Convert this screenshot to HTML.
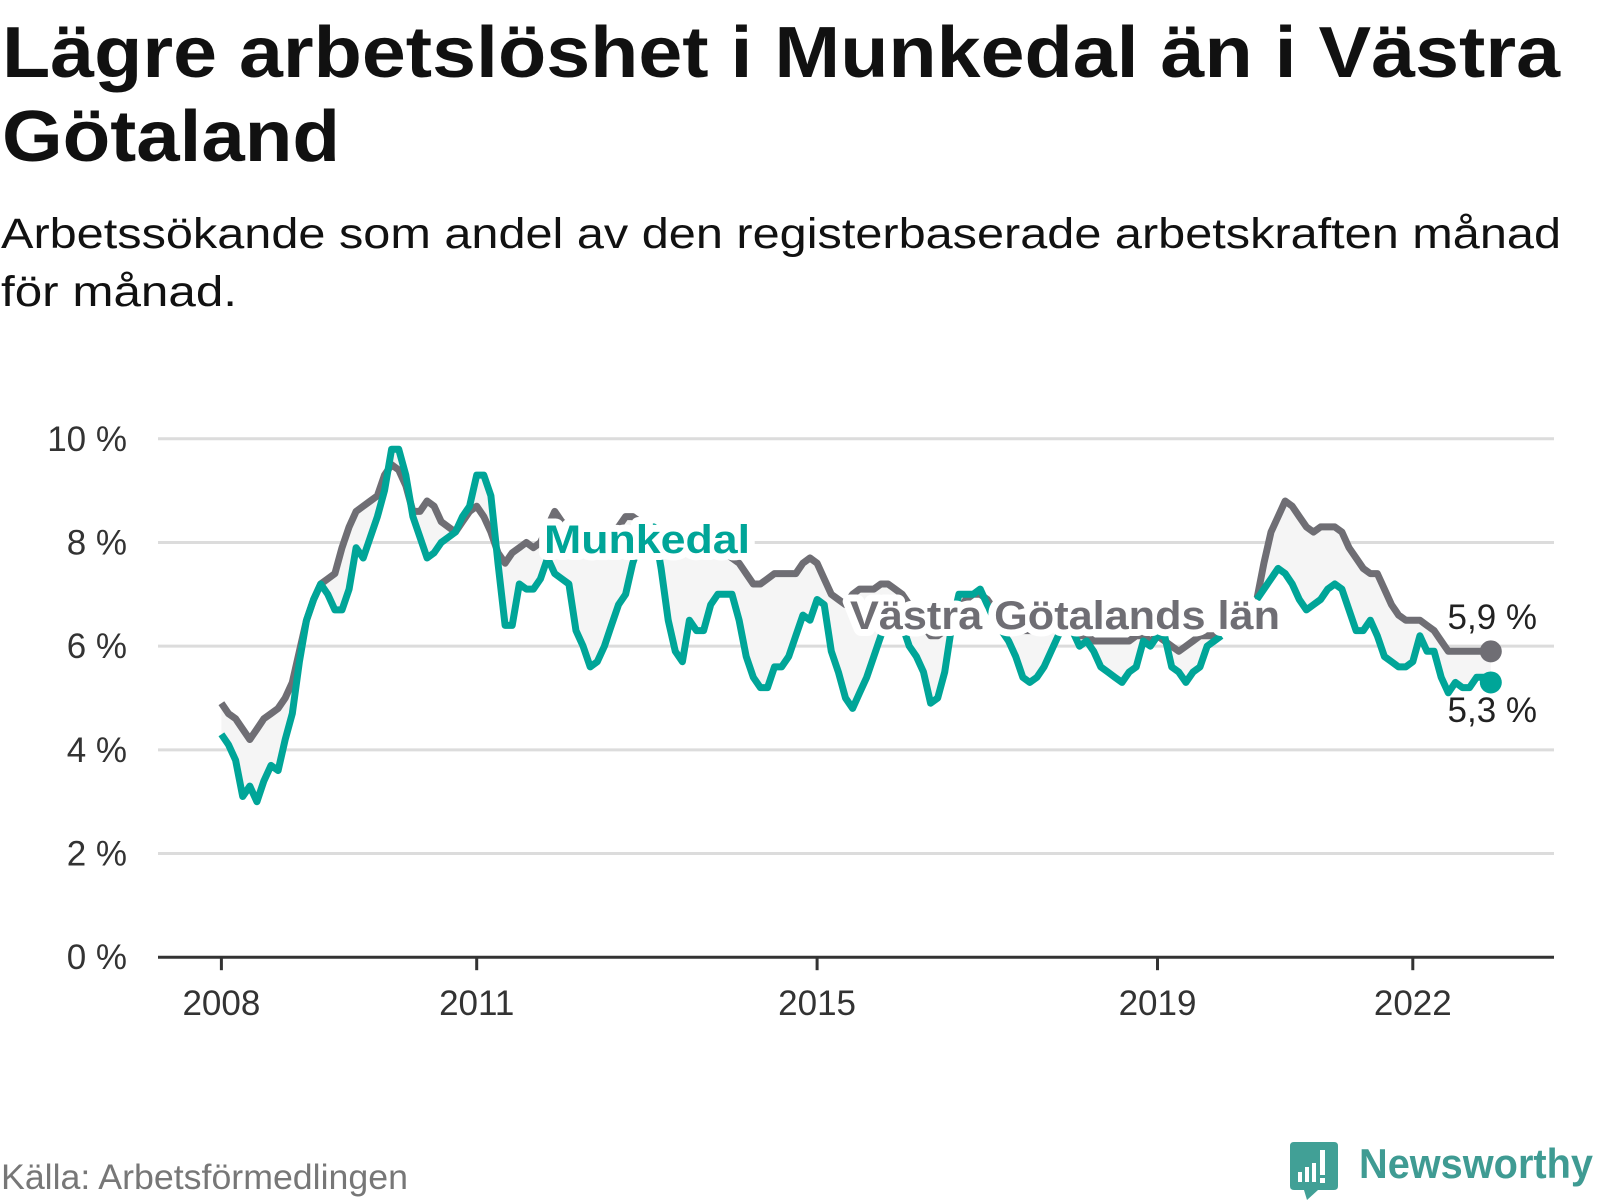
<!DOCTYPE html>
<html><head><meta charset="utf-8">
<style>
html,body{margin:0;padding:0;background:#fff;}
svg{display:block;font-family:"Liberation Sans",sans-serif;}
</style></head>
<body>
<svg id="chart" width="1600" height="1200" viewBox="0 0 1600 1200" xmlns="http://www.w3.org/2000/svg">
<text x="2" y="77" font-size="72" font-weight="bold" fill="#111" textLength="1558" lengthAdjust="spacingAndGlyphs">Lägre arbetslöshet i Munkedal än i Västra</text>
<text x="2" y="161" font-size="72" font-weight="bold" fill="#111" textLength="338" lengthAdjust="spacingAndGlyphs">Götaland</text>
<text x="1" y="248" font-size="43" fill="#111" textLength="1560" lengthAdjust="spacingAndGlyphs">Arbetssökande som andel av den registerbaserade arbetskraften månad</text>
<text x="1" y="306" font-size="43" fill="#111" textLength="236" lengthAdjust="spacingAndGlyphs">för månad.</text>
<g id="grid"></g>
<g id="area"></g>
<g id="lines"></g>
<g id="axes"></g>
<g id="labels"></g>
<text x="1" y="1189" font-size="35" fill="#777" textLength="407" lengthAdjust="spacingAndGlyphs">Källa: Arbetsförmedlingen</text>
<g>
<path d="M1294 1142 H1334 Q1338 1142 1338 1146 V1186 Q1338 1190 1334 1190 H1318 L1307 1200 L1304 1190 H1294 Q1290 1190 1290 1186 V1146 Q1290 1142 1294 1142 Z" fill="#41a096"/>
<rect x="1298" y="1172" width="4" height="10" fill="#fff"/>
<rect x="1305" y="1167" width="4" height="15" fill="#fff"/>
<rect x="1312" y="1163" width="4" height="19" fill="#fff"/>
<rect x="1320" y="1150" width="5" height="25" fill="#fff"/>
<rect x="1320" y="1178" width="5" height="5" fill="#fff"/>
<text x="1359" y="1178" font-size="42" font-weight="bold" fill="#3f9b93" textLength="234" lengthAdjust="spacingAndGlyphs">Newsworthy</text>
</g>
</svg>
<script>
const yTicks = [0, 2, 4, 6, 8, 10];
const yTickLabels = ["0 %", "2 %", "4 %", "6 %", "8 %", "10 %"];
const xTickYears = [2008, 2011, 2015, 2019, 2022];
const startYear = 2008;
const munkedal = [
4.3,4.1,3.8,3.1,3.3,3.0,3.4,3.7,3.6,4.2,4.7,5.7,
6.5,6.9,7.2,7.0,6.7,6.7,7.1,7.9,7.7,8.1,8.5,9.0,
9.8,9.8,9.3,8.5,8.1,7.7,7.8,8.0,8.1,8.2,8.5,8.7,
9.3,9.3,8.9,7.6,6.4,6.4,7.2,7.1,7.1,7.3,7.7,7.4,
7.3,7.2,6.3,6.0,5.6,5.7,6.0,6.4,6.8,7.0,7.6,8.0,
8.2,8.3,7.5,6.5,5.9,5.7,6.5,6.3,6.3,6.8,7.0,7.0,
7.0,6.5,5.8,5.4,5.2,5.2,5.6,5.6,5.8,6.2,6.6,6.5,
6.9,6.8,5.9,5.5,5.0,4.8,5.1,5.4,5.8,6.2,6.5,6.6,
6.4,6.0,5.8,5.5,4.9,5.0,5.5,6.4,7.0,7.0,7.0,7.1,
6.8,6.5,6.3,6.1,5.8,5.4,5.3,5.4,5.6,5.9,6.2,6.4,
6.3,6.0,6.1,5.9,5.6,5.5,5.4,5.3,5.5,5.6,6.1,6.0,
6.2,6.2,5.6,5.5,5.3,5.5,5.6,6.0,6.1,6.2,null,null,
null,null,6.9,7.1,7.3,7.5,7.4,7.2,6.9,6.7,6.8,6.9,
7.1,7.2,7.1,6.7,6.3,6.3,6.5,6.2,5.8,5.7,5.6,5.6,
5.7,6.2,5.9,5.9,5.4,5.1,5.3,5.2,5.2,5.4,5.4,5.3];
const vastra = [
4.9,4.7,4.6,4.4,4.2,4.4,4.6,4.7,4.8,5.0,5.3,5.9,
6.5,6.9,7.2,7.3,7.4,7.9,8.3,8.6,8.7,8.8,8.9,9.3,
9.5,9.4,9.1,8.6,8.6,8.8,8.7,8.4,8.3,8.2,8.4,8.6,
8.7,8.5,8.2,7.8,7.6,7.8,7.9,8.0,7.9,8.0,8.3,8.6,
8.4,8.3,8.2,8.1,8.1,8.1,8.2,8.2,8.3,8.5,8.5,8.4,
8.3,8.2,8.1,8.1,8.0,8.0,8.0,8.0,8.0,8.0,7.9,7.8,
7.7,7.6,7.4,7.2,7.2,7.3,7.4,7.4,7.4,7.4,7.6,7.7,
7.6,7.3,7.0,6.9,6.8,7.0,7.1,7.1,7.1,7.2,7.2,7.1,
7.0,6.8,6.6,6.4,6.2,6.2,6.3,6.5,6.7,6.9,7.0,7.0,
6.9,6.7,6.6,6.4,6.3,6.3,6.3,6.3,6.3,6.4,6.5,6.4,
6.3,6.2,6.2,6.1,6.1,6.1,6.1,6.1,6.1,6.2,6.2,6.1,
6.2,6.1,6.0,5.9,6.0,6.1,6.2,6.2,6.2,6.2,null,null,
null,null,6.9,7.6,8.2,8.5,8.8,8.7,8.5,8.3,8.2,8.3,
8.3,8.3,8.2,7.9,7.7,7.5,7.4,7.4,7.1,6.8,6.6,6.5,
6.5,6.5,6.4,6.3,6.1,5.9,5.9,5.9,5.9,5.9,5.9,5.9];
const seriesNames = ["Munkedal", "Västra Götalands län"];
const endLabels = ["5,3 %", "5,9 %"];

const NS = "http://www.w3.org/2000/svg";
const X0 = 221.4, PX_PER_YEAR = 85.1, Y0 = 957.2, PX_PER_UNIT = 51.84;
const PLOT_L = 158, PLOT_R = 1554;
function xScale(m){ return X0 + m * PX_PER_YEAR / 12; }
function xYear(yr){ return X0 + (yr - startYear) * PX_PER_YEAR; }
function yScale(v){ return Y0 - v * PX_PER_UNIT; }
function mk(tag, attrs, parent){ const e=document.createElementNS(NS,tag); for(const k in attrs) e.setAttribute(k,attrs[k]); parent.appendChild(e); return e; }

const grid = document.getElementById('grid');
yTicks.forEach((t,i)=>{
  if(t!==0){
    const l = mk('line',{x1:PLOT_L,x2:PLOT_R,y1:yScale(t),y2:yScale(t),stroke:'#dcdcdc','stroke-width':3},grid);
    
    
  }
  const tx = mk('text',{x:127,y:yScale(t)+12,'text-anchor':'end','font-size':35,fill:'#333'},grid);
  tx.textContent = yTickLabels[i];
  
  
});

const area = document.getElementById('area');
let segs=[], cur=[];
for(let i=0;i<munkedal.length;i++){
  if(munkedal[i]==null||vastra[i]==null){ if(cur.length) segs.push(cur); cur=[]; }
  else cur.push(i);
}
if(cur.length) segs.push(cur);
segs.forEach(s=>{
  let d = s.map((i,k)=>(k?'L':'M')+xScale(i).toFixed(1)+' '+yScale(vastra[i]).toFixed(1)).join(' ');
  d += ' ' + s.slice().reverse().map(i=>'L'+xScale(i).toFixed(1)+' '+yScale(munkedal[i]).toFixed(1)).join(' ') + ' Z';
  const p = mk('path',{d:d,fill:'#f5f5f5'},area);
  
  
});

const lines = document.getElementById('lines');
function linePath(arr){
  let d='', pen=false;
  arr.forEach((v,i)=>{
    if(v==null){ pen=false; return; }
    d += (pen?'L':'M') + xScale(i).toFixed(1)+' '+yScale(v).toFixed(1)+' ';
    pen=true;
  });
  return d;
}
const gLine = mk('path',{d:linePath(vastra),fill:'none',stroke:'#6f6e74','stroke-width':7,'stroke-linejoin':'round'},lines);


const tLine = mk('path',{d:linePath(munkedal),fill:'none',stroke:'#00a598','stroke-width':7,'stroke-linejoin':'round'},lines);



const last = munkedal.length-1;
const gDot = mk('circle',{cx:xScale(last),cy:yScale(vastra[last]),r:11,fill:'#6f6e74'},lines);


const tDot = mk('circle',{cx:xScale(last),cy:yScale(munkedal[last]),r:11,fill:'#00a598'},lines);



const axes = document.getElementById('axes');
const ax = mk('line',{x1:PLOT_L,x2:PLOT_R,y1:Y0,y2:Y0,stroke:'#333','stroke-width':3},axes);


xTickYears.forEach(yr=>{
  const tk = mk('line',{x1:xYear(yr),x2:xYear(yr),y1:Y0,y2:Y0+13,stroke:'#333','stroke-width':3},axes);
  
  
  const tx = mk('text',{x:xYear(yr),y:1015,'text-anchor':'middle','font-size':35,fill:'#333'},axes);
  tx.textContent = yr;
  
  
});

const labels = document.getElementById('labels');
const halo = {'stroke':'#fff','stroke-width':14,'paint-order':'stroke','stroke-linejoin':'round','font-weight':'bold','font-size':40};
const l1 = mk('text',Object.assign({x:544,y:553,fill:'#00a598',textLength:206,lengthAdjust:'spacingAndGlyphs'},halo),labels);
l1.textContent = seriesNames[0];


const l2 = mk('text',Object.assign({x:850,y:629,fill:'#6f6e74',textLength:430,lengthAdjust:'spacingAndGlyphs'},halo),labels);
l2.textContent = seriesNames[1];


const e1 = mk('text',{x:1537,y:629,'text-anchor':'end','font-size':35,fill:'#222'},labels);
e1.textContent = endLabels[1];


const e2 = mk('text',{x:1537,y:722,'text-anchor':'end','font-size':35,fill:'#222'},labels);
e2.textContent = endLabels[0];


</script>
</body></html>
